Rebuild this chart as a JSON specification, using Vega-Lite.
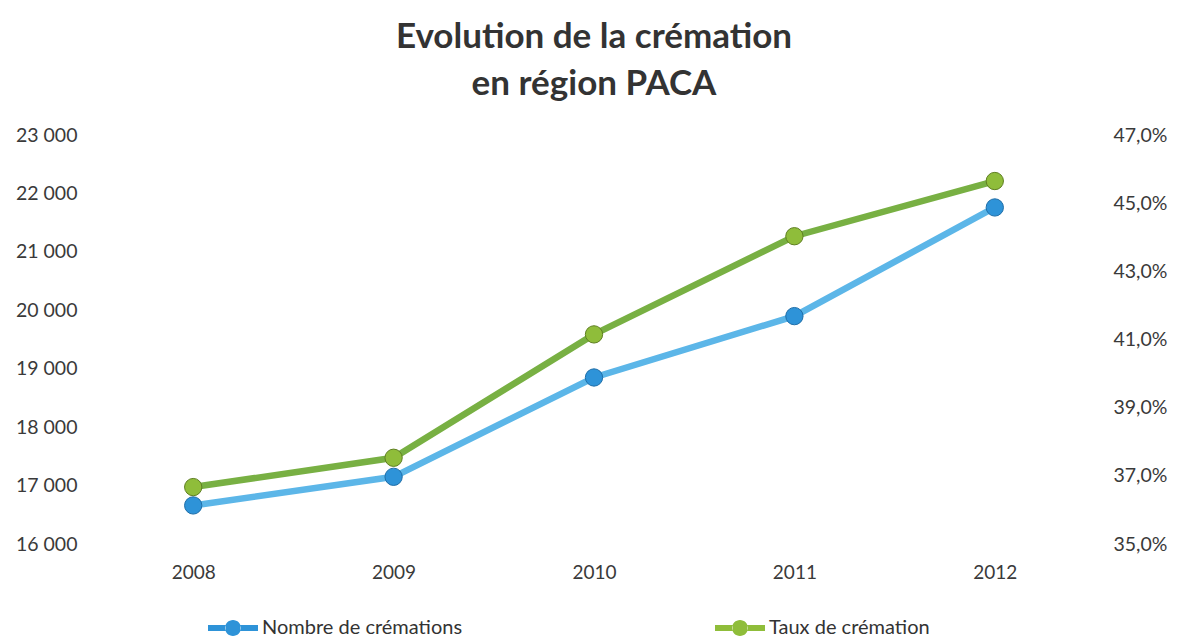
{
  "$schema": "https://vega.github.io/schema/vega-lite/v6.json",
  "width": 1002,
  "height": 409,
  "autosize": "none",
  "padding": {"left": 93, "top": 135, "right": 82, "bottom": 93},
  "background": "white",
  "title": {
    "text": ["Evolution de la crémation", "en région PACA"],
    "fontSize": 35,
    "font": "Lato",
    "fontWeight": "bold",
    "color": "#333333",
    "lineHeight": 47,
    "offset": 23,
    "anchor": "middle"
  },
  "data": {
    "values": [
      {"year": "2008", "nombre": 16660, "taux": 36.67},
      {"year": "2009", "nombre": 17150, "taux": 37.53},
      {"year": "2010", "nombre": 18850, "taux": 41.15},
      {"year": "2011", "nombre": 19900, "taux": 44.03},
      {"year": "2012", "nombre": 21760, "taux": 45.65}
    ]
  },
  "encoding": {
    "x": {
      "field": "year",
      "type": "ordinal",
      "scale": {"type": "point", "padding": 0.5},
      "axis": {
        "title": null,
        "labelAngle": 0,
        "ticks": false,
        "domain": false,
        "grid": false,
        "labelFontSize": 19,
        "labelColor": "#3a3a3a",
        "labelPadding": 19
      }
    }
  },
  "layer": [
    {
      "encoding": {
        "y": {
          "field": "nombre",
          "type": "quantitative",
          "scale": {"domain": [16000, 23000], "nice": false, "zero": false},
          "axis": {
            "orient": "left",
            "title": null,
            "values": [16000, 17000, 18000, 19000, 20000, 21000, 22000, 23000],
            "labelExpr": "replace(format(datum.value, ','), ',', ' ')",
            "ticks": false,
            "domain": false,
            "grid": false,
            "labelFontSize": 19.5,
            "labelColor": "#3a3a3a",
            "labelPadding": 16
          }
        }
      },
      "layer": [
        {"mark": {"type": "line", "strokeWidth": 6.5, "color": "#5cb6e8", "strokeCap": "round"}},
        {
          "mark": {"type": "point", "filled": true, "size": 300, "opacity": 1, "stroke": "#1f6ea8", "strokeWidth": 1},
          "encoding": {
            "color": {
              "datum": "Nombre de crémations",
              "type": "nominal",
              "scale": {
                "domain": ["Nombre de crémations", "Taux de crémation"],
                "range": ["#2e93d8", "#8fbd3a"]
              },
              "legend": {
                "orient": "none",
                "legendX": 115,
                "legendY": 468,
                "direction": "horizontal",
                "title": null,
                "symbolType": "M-1,-0.12L-0.3,-0.12L-0.3,0.12L-1,0.12Z M0.3,-0.12L1,-0.12L1,0.12L0.3,0.12Z M-0.32,0A0.32,0.32 0 1,0 0.32,0A0.32,0.32 0 1,0 -0.32,0Z",
                "symbolSize": 2500,
                "symbolStrokeWidth": 0,
                "symbolOpacity": 1,
                "labelFontSize": 20,
                "labelColor": "#333333",
                "labelOffset": 4,
                "labelLimit": 400,
                "columnPadding": 252
              }
            }
          }
        }
      ]
    },
    {
      "encoding": {
        "y": {
          "field": "taux",
          "type": "quantitative",
          "scale": {"domain": [35, 47], "nice": false, "zero": false},
          "axis": {
            "orient": "right",
            "title": null,
            "values": [35, 37, 39, 41, 43, 45, 47],
            "labelExpr": "replace(format(datum.value, '.1f'), '.', ',') + '%'",
            "ticks": false,
            "domain": false,
            "grid": false,
            "labelFontSize": 19.5,
            "labelColor": "#3a3a3a",
            "labelPadding": 18
          }
        }
      },
      "layer": [
        {"mark": {"type": "line", "strokeWidth": 6.5, "color": "#78b043", "strokeCap": "round"}},
        {
          "mark": {"type": "point", "filled": true, "size": 300, "opacity": 1, "stroke": "#5f7f22", "strokeWidth": 1},
          "encoding": {
            "color": {"datum": "Taux de crémation", "type": "nominal"}
          }
        }
      ]
    }
  ],
  "resolve": {"scale": {"y": "independent"}},
  "config": {"view": {"stroke": null}, "font": "Lato"}
}
